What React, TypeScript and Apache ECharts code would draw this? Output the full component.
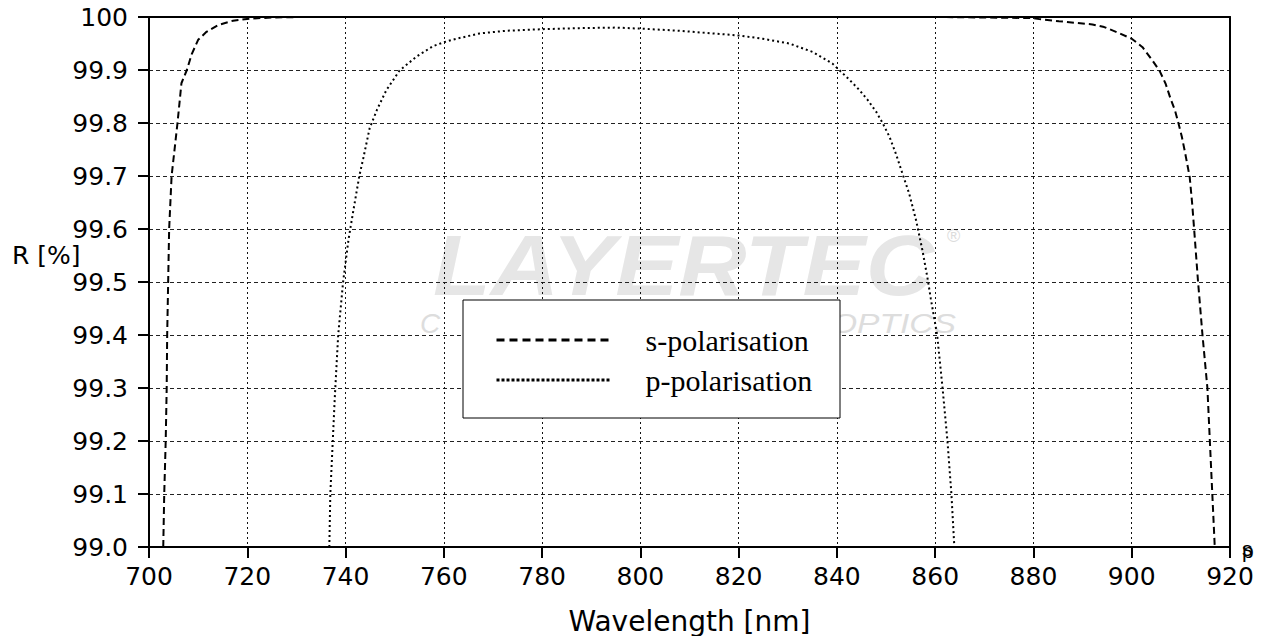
import React, { useEffect, useRef } from 'react';
import * as echarts from 'echarts';

const xMin = 700;
const xMax = 920;
const xStep = 20;
const yMin = 99.0;
const yMax = 100;
const yStep = 0.1;
const yTickLabels = ['99.0', '99.1', '99.2', '99.3', '99.4', '99.5', '99.6', '99.7', '99.8', '99.9', '100'];

const seriesNames = ['s-polarisation', 'p-polarisation'];
const endLabels = ['s', 'p'];
const xAxisName = 'Wavelength [nm]';
const yAxisName = 'R [%]';

// s-polarisation (null = gap where the curve lies on the 100 % border)
const sWavelength = [
  702.9, 703.1, 703.4, 703.6, 703.7, 703.9, 704.1, 704.6, 705.8, 706.6, 707.7, 708.7, 710.0, 711.7,
  714.1, 717.1, 720.5, 725.2, 731.3, 800.0, 860.0, 870.0, 880.0, 881.2, 885.2, 892.0, 894.4, 896.8,
  900.0, 902.2, 904.2, 905.7, 906.9, 907.9, 908.8, 909.5, 910.2, 910.9, 911.8, 912.3, 912.7, 913.5,
  914.4, 915.4, 915.9, 916.4, 916.9,
];
const sReflectance = [
  99.0, 99.1, 99.2, 99.3, 99.4, 99.5, 99.6, 99.7, 99.8, 99.875, 99.9, 99.93, 99.957, 99.972,
  99.985, 99.993, 99.997, 99.999, 100.0, null, 100.0, 99.999, 99.998, 99.996, 99.992, 99.986, 99.981, 99.972,
  99.959, 99.943, 99.918, 99.898, 99.874, 99.846, 99.824, 99.8, 99.774, 99.742, 99.698, 99.648, 99.6, 99.5,
  99.4, 99.3, 99.2, 99.1, 99.0,
];

// p-polarisation
const pWavelength = [
  736.7, 736.9, 737.4, 737.8, 738.5, 739.5, 740.6, 741.5, 742.8, 743.6, 744.9, 746.4, 748.3, 751.0,
  754.4, 757.8, 760.2, 762.6, 767.3, 772.7, 780.0, 787.6, 795.1, 800.2, 808.0, 814.7, 820.2, 824.9,
  830.3, 835.1, 839.1, 842.5, 844.6, 846.3, 848.0, 849.3, 850.7, 852.0, 853.5, 854.7, 856.1, 857.4,
  858.5, 859.1, 860.4, 861.5, 862.5, 863.3, 863.9,
];
const pReflectance = [
  99.0, 99.1, 99.2, 99.28, 99.4, 99.5, 99.58, 99.63, 99.7, 99.733, 99.79, 99.825, 99.862, 99.899,
  99.925, 99.945, 99.953, 99.959, 99.969, 99.974, 99.977, 99.979, 99.98, 99.978, 99.974, 99.969, 99.965, 99.959,
  99.95, 99.934, 99.912, 99.882, 99.862, 99.843, 99.821, 99.8, 99.774, 99.742, 99.7, 99.667, 99.617, 99.56,
  99.504, 99.469, 99.4, 99.3, 99.2, 99.1, 99.0,
];

const zip = (xs: number[], ys: (number | null)[]) =>
  xs.map((x, i) => [x, ys[i] === null ? '-' : ys[i]]);

export default function App() {
  const ref = useRef<HTMLDivElement>(null);

  useEffect(() => {
    if (!ref.current) return;
    const chart = echarts.init(ref.current, null, { renderer: 'svg' });
    const axisFont = 'DejaVu Sans';
    const frameLine = { show: true, onZero: false, lineStyle: { color: '#000', width: 2 } };

    chart.setOption({
      animation: false,
      backgroundColor: '#ffffff',
      grid: { left: 149, right: 38, top: 17, bottom: 89, containLabel: false, outerBoundsMode: 'none' },
      xAxis: [
        {
          type: 'value',
          min: xMin,
          max: xMax,
          interval: xStep,
          position: 'bottom',
          name: xAxisName,
          nameLocation: 'middle',
          nameGap: 60,
          nameTextStyle: { fontFamily: axisFont, fontSize: 28, color: '#000' },
          axisLine: frameLine,
          axisTick: { show: true, length: 11, lineStyle: { color: '#000', width: 2 } },
          axisLabel: { color: '#000', fontFamily: axisFont, fontSize: 25, margin: 17 },
          splitLine: { show: true, lineStyle: { color: '#111', width: 1, type: [2, 3] } },
        },
        {
          type: 'value',
          min: xMin,
          max: xMax,
          interval: xStep,
          position: 'top',
          axisLine: frameLine,
          axisTick: { show: false },
          axisLabel: { show: false },
          splitLine: { show: false },
        },
      ],
      yAxis: [
        {
          type: 'value',
          min: yMin,
          max: yMax,
          interval: yStep,
          position: 'left',
          axisLine: frameLine,
          axisTick: { show: true, length: 11, lineStyle: { color: '#000', width: 2 } },
          axisLabel: {
            color: '#000',
            fontFamily: axisFont,
            fontSize: 25,
            margin: 21,
            formatter: (v: number) => yTickLabels[Math.round((v - yMin) / yStep)] ?? '',
          },
          splitLine: { show: true, lineStyle: { color: '#222', width: 1, type: [4, 3] } },
        },
        {
          type: 'value',
          min: yMin,
          max: yMax,
          interval: yStep,
          position: 'right',
          axisLine: frameLine,
          axisTick: { show: false },
          axisLabel: { show: false },
          splitLine: { show: false },
        },
      ],
      legend: {
        orient: 'vertical',
        left: 490,
        top: 320,
        itemWidth: 115,
        itemHeight: 14,
        itemGap: 10,
        z: 10,
        textStyle: {
          fontFamily: 'Liberation Serif',
          fontSize: 30,
          color: '#000',
          padding: [0, 0, 0, 29],
        },
        data: [
          { name: seriesNames[0], lineStyle: { color: '#000', width: 3, type: [8, 5] }, itemStyle: { opacity: 0 } },
          { name: seriesNames[1], lineStyle: { color: '#000', width: 3, type: [3, 2] }, itemStyle: { opacity: 0 } },
        ],
      },
      series: [
        {
          name: seriesNames[0],
          type: 'line',
          data: zip(sWavelength, sReflectance),
          symbol: 'none',
          connectNulls: false,
          clip: false,
          lineStyle: { color: '#000', width: 2, type: [7, 4] },
          itemStyle: { color: '#000' },
        },
        {
          name: seriesNames[1],
          type: 'line',
          data: zip(pWavelength, pReflectance),
          symbol: 'none',
          clip: false,
          lineStyle: { color: '#000', width: 2, type: [2, 3] },
          itemStyle: { color: '#000' },
        },
      ],
      graphic: [
        {
          type: 'text',
          x: 433,
          y: 265,
          z: -1,
          scaleX: 1.1,
          silent: true,
          style: {
            text: 'LAYERTEC',
            fontFamily: 'Liberation Sans',
            fontSize: 86,
            fontWeight: 'bold',
            fontStyle: 'italic',
            fill: '#e6e6e6',
            align: 'left',
            verticalAlign: 'middle',
          },
        },
        {
          type: 'text',
          x: 947,
          y: 236,
          z: -1,
          silent: true,
          style: { text: '®', fontFamily: 'Liberation Sans', fontSize: 18, fill: '#dcdcdc', align: 'left', verticalAlign: 'middle' },
        },
        {
          type: 'text',
          x: 420,
          y: 323,
          z: -1,
          silent: true,
          style: { text: 'C', fontFamily: 'Liberation Sans', fontSize: 28, fontStyle: 'italic', fill: '#dddddd', align: 'left', verticalAlign: 'middle' },
        },
        {
          type: 'text',
          x: 956,
          y: 323,
          z: -1,
          scaleX: 1.2,
          silent: true,
          style: { text: 'OPTICS', fontFamily: 'Liberation Sans', fontSize: 28, fontStyle: 'italic', fill: '#dddddd', align: 'right', verticalAlign: 'middle' },
        },
        {
          type: 'rect',
          z: 3,
          silent: true,
          shape: { x: 463, y: 300, width: 377, height: 118 },
          style: { fill: '#ffffff', stroke: '#000', lineWidth: 1 },
        },
        {
          type: 'text',
          x: 12,
          y: 255,
          silent: true,
          style: { text: yAxisName, fontFamily: axisFont, fontSize: 25, fill: '#000', align: 'left', verticalAlign: 'middle' },
        },
        {
          type: 'text',
          x: 1242,
          y: 550,
          silent: true,
          style: { text: endLabels[1], fontFamily: 'Liberation Sans', fontSize: 21, fill: '#000', align: 'left', verticalAlign: 'middle' },
        },
        {
          type: 'text',
          x: 1242,
          y: 548,
          silent: true,
          style: { text: endLabels[0], fontFamily: 'Liberation Sans', fontSize: 21, fill: '#000', align: 'left', verticalAlign: 'middle' },
        },
      ],
    });

    return () => chart.dispose();
  }, []);

  return (
    <div
      ref={ref}
      style={{ position: 'absolute', left: 0, top: 0, width: 1268, height: 636, background: '#ffffff' }}
    />
  );
}
